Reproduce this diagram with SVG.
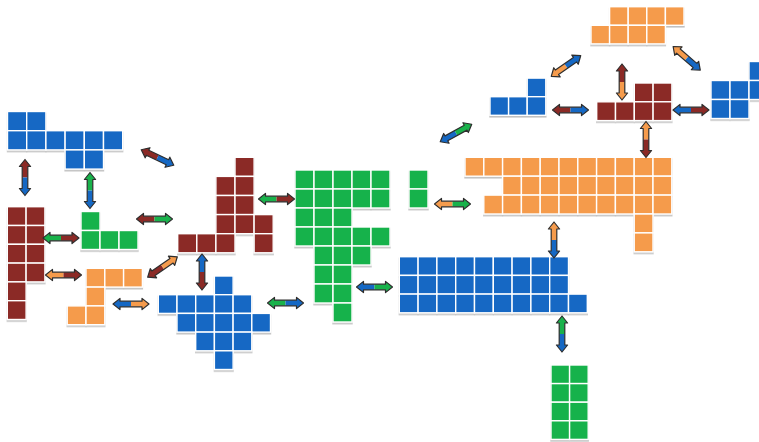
<svg xmlns="http://www.w3.org/2000/svg" xmlns:xlink="http://www.w3.org/1999/xlink" width="759" height="442" viewBox="0 0 759 442">
<style>
.b{fill:#1568c4}.r{fill:#8b2a26}.g{fill:#19b24b}.o{fill:#f59b4c}
.sh rect{stroke:#ffffff;stroke-width:1.4}
.sh{filter:url(#ds)}
</style>
<defs>
<filter id="ds" x="-10%" y="-10%" width="120%" height="130%">
<feDropShadow dx="0" dy="1.6" stdDeviation="0.7" flood-color="#777" flood-opacity="0.45"/>
</filter>
<path id="hl" d="M-18,0 L-11,-5.6 L-11,-2.8 L0,-2.8 L0,2.8 L-11,2.8 L-11,5.6 Z"/>
<path id="hr" d="M18,0 L11,-5.6 L11,-2.8 L0,-2.8 L0,2.8 L11,2.8 L11,5.6 Z"/>
<path id="ho" d="M-18,0 L-11,-5.6 L-11,-2.8 L11,-2.8 L11,-5.6 L18,0 L11,5.6 L11,2.8 L-11,2.8 L-11,5.6 Z" fill="none" stroke="#2e2e2e" stroke-width="1.2" stroke-linejoin="round"/>
</defs>
<rect width="759" height="442" fill="#ffffff"/>

<g id="shapeA" class="sh b">
<rect x="7.5" y="111.5" width="19.2" height="19.2"/><rect x="26.7" y="111.5" width="19.2" height="19.2"/>
<rect x="7.5" y="130.7" width="19.2" height="19.2"/><rect x="26.7" y="130.7" width="19.2" height="19.2"/><rect x="45.9" y="130.7" width="19.2" height="19.2"/><rect x="65.1" y="130.7" width="19.2" height="19.2"/><rect x="84.3" y="130.7" width="19.2" height="19.2"/><rect x="103.5" y="130.7" width="19.2" height="19.2"/>
<rect x="65.1" y="149.9" width="19.2" height="19.2"/><rect x="84.3" y="149.9" width="19.2" height="19.2"/>
</g>

<g id="shapeB" class="sh r">
<rect x="7.3" y="206.7" width="18.8" height="18.8"/><rect x="26.1" y="206.7" width="18.8" height="18.8"/>
<rect x="7.3" y="225.5" width="18.8" height="18.8"/><rect x="26.1" y="225.5" width="18.8" height="18.8"/>
<rect x="7.3" y="244.3" width="18.8" height="18.8"/><rect x="26.1" y="244.3" width="18.8" height="18.8"/>
<rect x="7.3" y="263.1" width="18.8" height="18.8"/><rect x="26.1" y="263.1" width="18.8" height="18.8"/>
<rect x="7.3" y="281.9" width="18.8" height="18.8"/>
<rect x="7.3" y="300.7" width="18.8" height="18.8"/>
</g>

<g id="shapeC" class="sh g">
<rect x="81" y="211.5" width="19" height="19"/>
<rect x="81" y="230.5" width="19" height="19"/><rect x="100" y="230.5" width="19" height="19"/><rect x="119" y="230.5" width="19" height="19"/>
</g>

<g id="shapeD" class="sh o">
<rect x="86" y="268.3" width="18.8" height="18.8"/><rect x="104.8" y="268.3" width="18.8" height="18.8"/><rect x="123.6" y="268.3" width="18.8" height="18.8"/>
<rect x="86" y="287.1" width="18.8" height="18.8"/>
<rect x="67.2" y="305.9" width="18.8" height="18.8"/><rect x="86" y="305.9" width="18.8" height="18.8"/>
</g>

<g id="shapeE" class="sh r">
<rect x="235" y="157.3" width="19.1" height="19.1"/>
<rect x="215.9" y="176.4" width="19.1" height="19.1"/><rect x="235" y="176.4" width="19.1" height="19.1"/>
<rect x="215.9" y="195.5" width="19.1" height="19.1"/><rect x="235" y="195.5" width="19.1" height="19.1"/>
<rect x="215.9" y="214.6" width="19.1" height="19.1"/><rect x="235" y="214.6" width="19.1" height="19.1"/><rect x="254.1" y="214.6" width="19.1" height="19.1"/>
<rect x="177.7" y="233.7" width="19.1" height="19.1"/><rect x="196.8" y="233.7" width="19.1" height="19.1"/><rect x="215.9" y="233.7" width="19.1" height="19.1"/><rect x="254.1" y="233.7" width="19.1" height="19.1"/>
</g>

<g id="shapeF" class="sh b">
<rect x="214.4" y="276" width="18.7" height="18.7"/>
<rect x="158.3" y="294.7" width="18.7" height="18.7"/><rect x="177" y="294.7" width="18.7" height="18.7"/><rect x="195.7" y="294.7" width="18.7" height="18.7"/><rect x="214.4" y="294.7" width="18.7" height="18.7"/><rect x="233.1" y="294.7" width="18.7" height="18.7"/>
<rect x="177" y="313.4" width="18.7" height="18.7"/><rect x="195.7" y="313.4" width="18.7" height="18.7"/><rect x="214.4" y="313.4" width="18.7" height="18.7"/><rect x="233.1" y="313.4" width="18.7" height="18.7"/><rect x="251.8" y="313.4" width="18.7" height="18.7"/>
<rect x="195.7" y="332.1" width="18.7" height="18.7"/><rect x="214.4" y="332.1" width="18.7" height="18.7"/><rect x="233.1" y="332.1" width="18.7" height="18.7"/>
<rect x="214.4" y="350.8" width="18.7" height="18.7"/>
</g>

<g id="shapeG" class="sh g">
<rect x="295" y="170" width="19" height="19"/><rect x="314" y="170" width="19" height="19"/><rect x="333" y="170" width="19" height="19"/><rect x="352" y="170" width="19" height="19"/><rect x="371" y="170" width="19" height="19"/>
<rect x="295" y="189" width="19" height="19"/><rect x="314" y="189" width="19" height="19"/><rect x="333" y="189" width="19" height="19"/><rect x="352" y="189" width="19" height="19"/><rect x="371" y="189" width="19" height="19"/>
<rect x="295" y="208" width="19" height="19"/><rect x="314" y="208" width="19" height="19"/><rect x="333" y="208" width="19" height="19"/>
<rect x="295" y="227" width="19" height="19"/><rect x="314" y="227" width="19" height="19"/><rect x="333" y="227" width="19" height="19"/><rect x="352" y="227" width="19" height="19"/><rect x="371" y="227" width="19" height="19"/>
<rect x="314" y="246" width="19" height="19"/><rect x="333" y="246" width="19" height="19"/><rect x="352" y="246" width="19" height="19"/>
<rect x="314" y="265" width="19" height="19"/><rect x="333" y="265" width="19" height="19"/>
<rect x="314" y="284" width="19" height="19"/><rect x="333" y="284" width="19" height="19"/>
<rect x="333" y="303" width="19" height="19"/>
</g>

<g id="shapeH" class="sh g">
<rect x="409" y="170" width="19" height="19"/><rect x="409" y="189" width="19" height="19"/>
</g>

<g id="shapeI" class="sh b">
<rect x="399.3" y="256.7" width="18.8" height="18.7"/><rect x="418.1" y="256.7" width="18.8" height="18.7"/><rect x="436.9" y="256.7" width="18.8" height="18.7"/><rect x="455.7" y="256.7" width="18.8" height="18.7"/><rect x="474.5" y="256.7" width="18.8" height="18.7"/><rect x="493.3" y="256.7" width="18.8" height="18.7"/><rect x="512.1" y="256.7" width="18.8" height="18.7"/><rect x="530.9" y="256.7" width="18.8" height="18.7"/><rect x="549.7" y="256.7" width="18.8" height="18.7"/>
<rect x="399.3" y="275.4" width="18.8" height="18.7"/><rect x="418.1" y="275.4" width="18.8" height="18.7"/><rect x="436.9" y="275.4" width="18.8" height="18.7"/><rect x="455.7" y="275.4" width="18.8" height="18.7"/><rect x="474.5" y="275.4" width="18.8" height="18.7"/><rect x="493.3" y="275.4" width="18.8" height="18.7"/><rect x="512.1" y="275.4" width="18.8" height="18.7"/><rect x="530.9" y="275.4" width="18.8" height="18.7"/><rect x="549.7" y="275.4" width="18.8" height="18.7"/>
<rect x="399.3" y="294.1" width="18.8" height="18.7"/><rect x="418.1" y="294.1" width="18.8" height="18.7"/><rect x="436.9" y="294.1" width="18.8" height="18.7"/><rect x="455.7" y="294.1" width="18.8" height="18.7"/><rect x="474.5" y="294.1" width="18.8" height="18.7"/><rect x="493.3" y="294.1" width="18.8" height="18.7"/><rect x="512.1" y="294.1" width="18.8" height="18.7"/><rect x="530.9" y="294.1" width="18.8" height="18.7"/><rect x="549.7" y="294.1" width="18.8" height="18.7"/><rect x="568.5" y="294.1" width="18.8" height="18.7"/>
</g>

<g id="shapeJ" class="sh o">
<rect x="465" y="157.3" width="18.8" height="18.9"/><rect x="483.8" y="157.3" width="18.8" height="18.9"/><rect x="502.6" y="157.3" width="18.8" height="18.9"/><rect x="521.4" y="157.3" width="18.8" height="18.9"/><rect x="540.2" y="157.3" width="18.8" height="18.9"/><rect x="559" y="157.3" width="18.8" height="18.9"/><rect x="577.8" y="157.3" width="18.8" height="18.9"/><rect x="596.6" y="157.3" width="18.8" height="18.9"/><rect x="615.4" y="157.3" width="18.8" height="18.9"/><rect x="634.2" y="157.3" width="18.8" height="18.9"/><rect x="653" y="157.3" width="18.8" height="18.9"/>
<rect x="502.6" y="176.2" width="18.8" height="18.9"/><rect x="521.4" y="176.2" width="18.8" height="18.9"/><rect x="540.2" y="176.2" width="18.8" height="18.9"/><rect x="559" y="176.2" width="18.8" height="18.9"/><rect x="577.8" y="176.2" width="18.8" height="18.9"/><rect x="596.6" y="176.2" width="18.8" height="18.9"/><rect x="615.4" y="176.2" width="18.8" height="18.9"/><rect x="634.2" y="176.2" width="18.8" height="18.9"/><rect x="653" y="176.2" width="18.8" height="18.9"/>
<rect x="483.8" y="195.1" width="18.8" height="18.9"/><rect x="502.6" y="195.1" width="18.8" height="18.9"/><rect x="521.4" y="195.1" width="18.8" height="18.9"/><rect x="540.2" y="195.1" width="18.8" height="18.9"/><rect x="559" y="195.1" width="18.8" height="18.9"/><rect x="577.8" y="195.1" width="18.8" height="18.9"/><rect x="596.6" y="195.1" width="18.8" height="18.9"/><rect x="615.4" y="195.1" width="18.8" height="18.9"/><rect x="634.2" y="195.1" width="18.8" height="18.9"/><rect x="653" y="195.1" width="18.8" height="18.9"/>
<rect x="634.2" y="214" width="18.8" height="18.9"/>
<rect x="634.2" y="232.9" width="18.8" height="18.9"/>
</g>

<g id="shapeK" class="sh o">
<rect x="609.6" y="6.7" width="18.6" height="18.6"/><rect x="628.2" y="6.7" width="18.6" height="18.6"/><rect x="646.8" y="6.7" width="18.6" height="18.6"/><rect x="665.4" y="6.7" width="18.6" height="18.6"/>
<rect x="591" y="25.3" width="18.6" height="18.6"/><rect x="609.6" y="25.3" width="18.6" height="18.6"/><rect x="628.2" y="25.3" width="18.6" height="18.6"/><rect x="646.8" y="25.3" width="18.6" height="18.6"/>
</g>

<g id="shapeL" class="sh b">
<rect x="527.2" y="78.1" width="18.6" height="18.6"/>
<rect x="490" y="96.7" width="18.6" height="18.6"/><rect x="508.6" y="96.7" width="18.6" height="18.6"/><rect x="527.2" y="96.7" width="18.6" height="18.6"/>
</g>

<g id="shapeM" class="sh r">
<rect x="634.3" y="83" width="18.8" height="18.8"/><rect x="653.1" y="83" width="18.8" height="18.8"/>
<rect x="596.7" y="101.8" width="18.8" height="18.8"/><rect x="615.5" y="101.8" width="18.8" height="18.8"/><rect x="634.3" y="101.8" width="18.8" height="18.8"/><rect x="653.1" y="101.8" width="18.8" height="18.8"/>
</g>

<g id="shapeN" class="sh b">
<rect x="749" y="61.5" width="19" height="19"/>
<rect x="711" y="80.5" width="19" height="19"/><rect x="730" y="80.5" width="19" height="19"/><rect x="749" y="80.5" width="19" height="19"/>
<rect x="711" y="99.5" width="19" height="19"/><rect x="730" y="99.5" width="19" height="19"/>
</g>

<g id="shapeO" class="sh g">
<rect x="551" y="365" width="18.6" height="18.6"/><rect x="569.6" y="365" width="18.6" height="18.6"/>
<rect x="551" y="383.6" width="18.6" height="18.6"/><rect x="569.6" y="383.6" width="18.6" height="18.6"/>
<rect x="551" y="402.2" width="18.6" height="18.6"/><rect x="569.6" y="402.2" width="18.6" height="18.6"/>
<rect x="551" y="420.8" width="18.6" height="18.6"/><rect x="569.6" y="420.8" width="18.6" height="18.6"/>
</g>

<g id="connectors">
<g transform="translate(25,177.5) rotate(90)"><use href="#hl" class="r"/><use href="#hr" class="b"/><use href="#ho"/></g>
<g transform="translate(90,190.5) rotate(90)"><use href="#hl" class="g"/><use href="#hr" class="b"/><use href="#ho"/></g>
<g transform="translate(157.5,157.5) rotate(25.4)"><use href="#hl" class="r"/><use href="#hr" class="b"/><use href="#ho"/></g>
<g transform="translate(154.5,219)"><use href="#hl" class="r"/><use href="#hr" class="g"/><use href="#ho"/></g>
<g transform="translate(61,238)"><use href="#hl" class="g"/><use href="#hr" class="r"/><use href="#ho"/></g>
<g transform="translate(63.5,275)"><use href="#hl" class="o"/><use href="#hr" class="r"/><use href="#ho"/></g>
<g transform="translate(162.5,267) rotate(-34.6)"><use href="#hl" class="r"/><use href="#hr" class="o"/><use href="#ho"/></g>
<g transform="translate(131,304)"><use href="#hl" class="b"/><use href="#hr" class="o"/><use href="#ho"/></g>
<g transform="translate(202,272) rotate(90)"><use href="#hl" class="b"/><use href="#hr" class="r"/><use href="#ho"/></g>
<g transform="translate(276.5,199)"><use href="#hl" class="g"/><use href="#hr" class="r"/><use href="#ho"/></g>
<g transform="translate(285.5,303)"><use href="#hl" class="g"/><use href="#hr" class="b"/><use href="#ho"/></g>
<g transform="translate(374.5,287)"><use href="#hl" class="b"/><use href="#hr" class="g"/><use href="#ho"/></g>
<g transform="translate(452.5,204)"><use href="#hl" class="o"/><use href="#hr" class="g"/><use href="#ho"/></g>
<g transform="translate(554,240) rotate(90)"><use href="#hl" class="o"/><use href="#hr" class="b"/><use href="#ho"/></g>
<g transform="translate(562,334) rotate(90)"><use href="#hl" class="g"/><use href="#hr" class="b"/><use href="#ho"/></g>
<g transform="translate(646,139.5) rotate(90)"><use href="#hl" class="o"/><use href="#hr" class="r"/><use href="#ho"/></g>
<g transform="translate(566,66) rotate(-35)"><use href="#hl" class="o"/><use href="#hr" class="b"/><use href="#ho"/></g>
<g transform="translate(622,82) rotate(90)"><use href="#hl" class="r"/><use href="#hr" class="o"/><use href="#ho"/></g>
<g transform="translate(686.7,58.3) rotate(41)"><use href="#hl" class="o"/><use href="#hr" class="b"/><use href="#ho"/></g>
<g transform="translate(570.5,110)"><use href="#hl" class="r"/><use href="#hr" class="b"/><use href="#ho"/></g>
<g transform="translate(691,110)"><use href="#hl" class="b"/><use href="#hr" class="r"/><use href="#ho"/></g>
<g transform="translate(456,133) rotate(-29)"><use href="#hl" class="b"/><use href="#hr" class="g"/><use href="#ho"/></g>
</g>
</svg>
